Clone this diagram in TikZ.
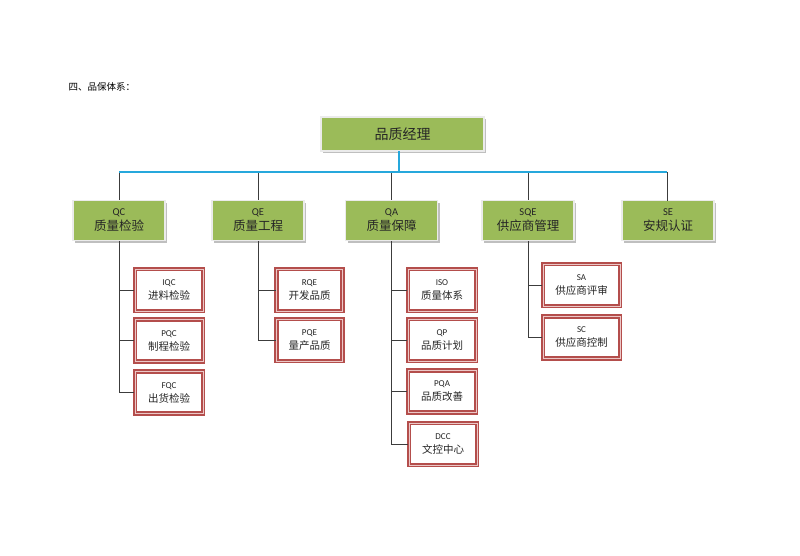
\documentclass[tikz,border=0pt]{standalone}
\usepackage{fontspec}
\usetikzlibrary{shadows}
\setmainfont{Carlito}
\newfontfamily\cjk{Noto Sans CJK SC}
\definecolor{boxgreen}{RGB}{155,187,89}
\definecolor{boxred}{RGB}{180,78,76}
\definecolor{boxpink}{RGB}{236,200,199}
\definecolor{barblue}{RGB}{38,168,220}
\definecolor{linegray}{RGB}{60,60,60}
\begin{document}
\begin{tikzpicture}[x=1pt,y=-1pt,
  gshadow/.style={drop shadow={shadow xshift=2pt,shadow yshift=-2pt,fill=black!25,opacity=1}},
  topbox/.style={fill=boxgreen,draw=white!92!black,line width=1.5pt,minimum width=163pt,minimum height=34pt,inner sep=0pt,gshadow,text=black!85},
  grbox/.style={fill=boxgreen,draw=white!92!black,line width=1.5pt,minimum width=92pt,minimum height=40pt,inner sep=0pt,align=center,gshadow,text=black!85,
    font=\fontsize{12.5}{13}\selectfont},
  rdbox/.style={fill=white,draw=boxred,line width=1.6pt,double=boxpink,double distance=1pt,minimum width=66pt,minimum height=42pt,inner sep=0pt,align=center,text=black!85,
    font=\fontsize{10.5}{12}\selectfont},
  conn/.style={draw=linegray,line width=0.8pt},
  bar/.style={draw=barblue,line width=2.2pt}
]
\useasboundingbox (0,0) rectangle (800,555);
\node[anchor=west,font=\cjk\fontsize{9.5}{11}\selectfont] (title) at (65,87) {四、品保体系：};

\node[topbox,font=\cjk\fontsize{14}{16}\selectfont] (top) at (402.5,134) {品质经理};

\node[grbox] (qc) at (119,220.5) {\fontsize{10.5}{11}\selectfont QC\\[2pt]{\cjk 质量检验}};
\node[grbox] (qe) at (258,220.5) {\fontsize{10.5}{11}\selectfont QE\\[2pt]{\cjk 质量工程}};
\node[grbox] (qa) at (391.5,220.5) {\fontsize{10.5}{11}\selectfont QA\\[2pt]{\cjk 质量保障}};
\node[grbox] (sqe) at (528,220.5) {\fontsize{10.5}{11}\selectfont SQE\\[2pt]{\cjk 供应商管理}};
\node[grbox] (se) at (668,220.5) {\fontsize{10.5}{11}\selectfont SE\\[2pt]{\cjk 安规认证}};

\coordinate (busL) at (119,172);
\coordinate (busR) at (667,172);
\coordinate (busM) at (399,172);

\draw[conn] (busL) -- (qc.north);
\draw[conn] (258,172) -- (qe.north);
\draw[conn] (391.5,172) -- (qa.north);
\draw[conn] (528,172) -- (sqe.north);
\draw[conn] (busR) -- (667,200.5);
\draw[bar] (busL) -- (busR);
\draw[bar] (399,151) -- (busM);

% QC children
\node[rdbox,minimum width=68pt] (iqc) at (169,290) {\fontsize{9}{10}\selectfont IQC\\[2pt]{\cjk 进料检验}};
\node[rdbox,minimum width=68pt] (pqc) at (169,340.5) {\fontsize{9}{10}\selectfont PQC\\[2pt]{\cjk 制程检验}};
\node[rdbox,minimum width=68pt] (fqc) at (169,392.5) {\fontsize{9}{10}\selectfont FQC\\[2pt]{\cjk 出货检验}};
\draw[conn] (qc.south) -- (119,392.5) -- (fqc.west);
\draw[conn] (119,290) -- (iqc.west);
\draw[conn] (119,340.5) -- (pqc.west);

% QE children
\node[rdbox] (rqe) at (309.5,290) {\fontsize{9}{10}\selectfont RQE\\[2pt]{\cjk 开发品质}};
\node[rdbox] (pqe) at (309.5,340) {\fontsize{9}{10}\selectfont PQE\\[2pt]{\cjk 量产品质}};
\draw[conn] (qe.south) -- (258,340) -- (pqe.west);
\draw[conn] (258,290) -- (rqe.west);

% QA children
\node[rdbox,minimum width=68pt] (iso) at (442,290) {\fontsize{9}{10}\selectfont ISO\\[2pt]{\cjk 质量体系}};
\node[rdbox,minimum width=68pt] (qp) at (442,340) {\fontsize{9}{10}\selectfont QP\\[2pt]{\cjk 品质计划}};
\node[rdbox,minimum width=68pt] (pqa) at (442,391.5) {\fontsize{9}{10}\selectfont PQA\\[2pt]{\cjk 品质改善}};
\node[rdbox,minimum width=68pt] (dcc) at (443,444) {\fontsize{9}{10}\selectfont DCC\\[2pt]{\cjk 文控中心}};
\draw[conn] (qa.south) -- (391.5,444) -- (dcc.west);
\draw[conn] (391.5,290) -- (iso.west);
\draw[conn] (391.5,340) -- (qp.west);
\draw[conn] (391.5,391.5) -- (pqa.west);

% SQE children
\node[rdbox,minimum width=77pt] (sa) at (581.5,285) {\fontsize{9}{10}\selectfont SA\\[2pt]{\cjk 供应商评审}};
\node[rdbox,minimum width=77pt] (sc) at (581.5,337.5) {\fontsize{9}{10}\selectfont SC\\[2pt]{\cjk 供应商控制}};
\draw[conn] (sqe.south) -- (528,337.5) -- (sc.west);
\draw[conn] (528,285) -- (sa.west);
\end{tikzpicture}
\end{document}
